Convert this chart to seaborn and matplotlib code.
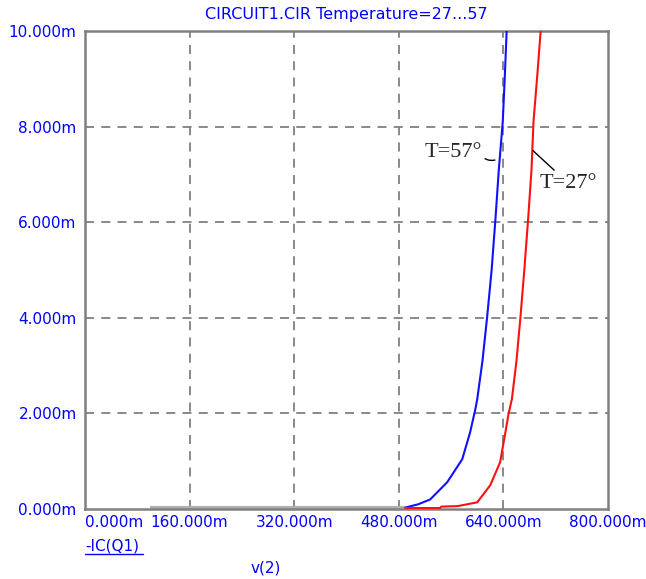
import numpy as np
import pandas as pd
import matplotlib
matplotlib.use('Agg')
import matplotlib.pyplot as plt
import seaborn as sns

# Collector current of Q1 against v(2)
# (volts in mV, currents in mA)

v_57 = [490, 510, 528, 554, 577, 589, 597, 600, 608, 615, 622, 628, 633, 639, 642, 645, 648]
ic_57 = [0.03, 0.1, 0.2, 0.56, 1.04, 1.6, 2.08, 2.3, 3.1, 4.0, 5.0, 6.1, 7.1, 8.1, 9.0, 10.0, 10.6]

v_27 = [490, 543, 545, 570, 600, 620, 635, 643, 648, 653, 660, 666, 672, 678, 683, 686, 692, 697, 700]
ic_27 = [0.02, 0.02, 0.05, 0.06, 0.14, 0.5, 0.98, 1.6, 2.0, 2.3, 3.1, 4.0, 5.0, 6.1, 7.1, 8.1, 9.1, 10.0, 10.6]

# flat part of the trace before the transistor turns on
v_off = [100, 490]
ic_off = [0.02, 0.02]

x_ticks = [0, 160, 320, 480, 640, 800]
x_labels = ['0.000m', '160.000m', '320.000m', '480.000m', '640.000m', '800.000m']
y_ticks = [0, 2, 4, 6, 8, 10]
y_labels = ['0.000m', '2.000m', '4.000m', '6.000m', '8.000m', '10.000m']

df = pd.concat([
    pd.DataFrame({'v': v_57, 'ic': ic_57, 'temp': 'T=57'}),
    pd.DataFrame({'v': v_27, 'ic': ic_27, 'temp': 'T=27'}),
])

sns.set_style('white')
plt.rcParams['font.family'] = ['DejaVu Sans']

blue = '#0000ff'
fig = plt.figure(figsize=(6.46, 5.79), dpi=100)
ax = fig.add_axes([85 / 646, 70 / 579, 523 / 646, 478 / 579])

# grid first so the traces sit on top of it
for xt in x_ticks[1:-1]:
    ax.axvline(xt, color='#808080', lw=1.3, ls=(0, (5, 4)), zorder=1)
for yt in y_ticks[1:-1]:
    ax.axhline(yt, color='#808080', lw=1.3, ls=(0, (5, 4)), zorder=1)

ax.plot(v_off, ic_off, color='#b0b0b0', lw=3, zorder=2, solid_capstyle='butt')
sns.lineplot(data=df, x='v', y='ic', hue='temp', sort=False, estimator=None,
             palette={'T=57': '#1010ff', 'T=27': '#ff1010'}, lw=1.5,
             legend=False, ax=ax, zorder=3)

ax.set_xlim(0, 800)
ax.set_ylim(0, 10)
ax.set_xticks(x_ticks)
ax.set_xticklabels(x_labels, color=blue, fontsize=11)
ax.set_yticks(y_ticks)
ax.set_yticklabels(y_labels, color=blue, fontsize=11)
ax.xaxis.get_ticklabels()[0].set_horizontalalignment('left')
ax.tick_params(axis='both', length=0)
ax.tick_params(axis='x', pad=4)
ax.tick_params(axis='y', pad=6)
ax.set_xlabel('')
ax.set_ylabel('')

for s in ax.spines.values():
    s.set_color('#808080')
    s.set_linewidth(1.8)

# labels of the two traces
ax.annotate('T=57°', xy=(627, 7.3), xytext=(607, 7.45), ha='right', va='center',
            fontsize=16, family='Liberation Serif',
            arrowprops=dict(arrowstyle='-', color='black', lw=1, relpos=(1, 0.35),
                            connectionstyle='arc3,rad=0.3', shrinkA=0, shrinkB=0))
ax.annotate('T=27°', xy=(685, 7.5), xytext=(695, 6.82), ha='left', va='center',
            fontsize=16, family='Liberation Serif',
            arrowprops=dict(arrowstyle='-', color='black', lw=1, shrinkA=0, shrinkB=0))

fig.text(346 / 646, 1 - 14 / 579, 'CIRCUIT1.CIR Temperature=27...57',
         ha='center', va='center', color=blue, fontsize=11.5)
fig.text(85 / 646, 1 - 546 / 579, '-IC(Q1)', ha='left', va='center',
         color=blue, fontsize=11)
fig.add_artist(plt.Line2D([85 / 646, 143 / 646], [1 - 554 / 579, 1 - 554 / 579],
                          color=blue, lw=1))
fig.text(266 / 646, 1 - 568 / 579, 'v(2)', ha='center', va='center',
         color=blue, fontsize=11)

fig.savefig('out.png', dpi=100)
